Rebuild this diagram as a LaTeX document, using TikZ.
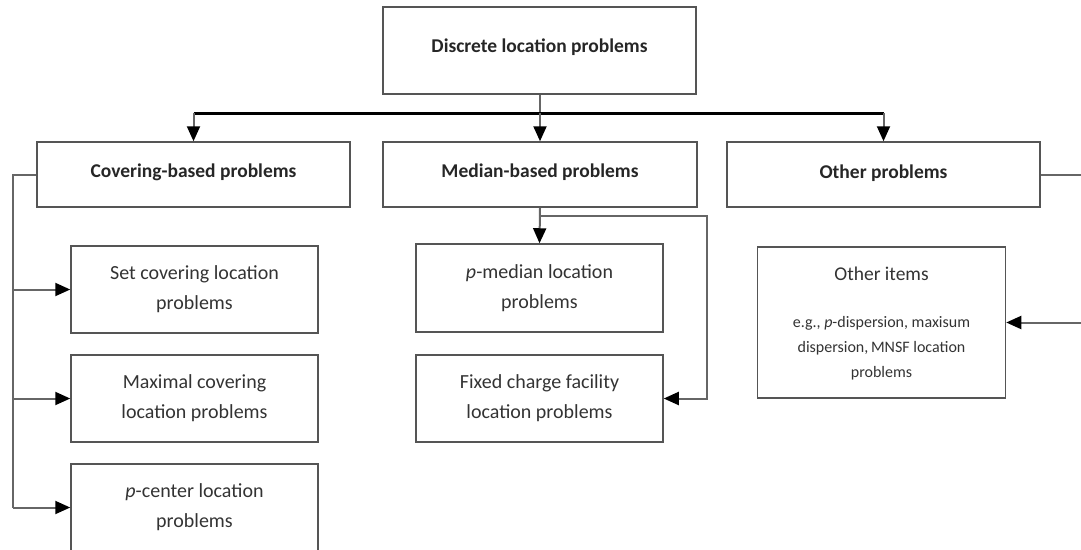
\documentclass[tikz,border=0pt]{standalone}
\usepackage{fontspec}
\setmainfont{Carlito}
\usetikzlibrary{arrows.meta}
\definecolor{txt}{HTML}{333333}
\definecolor{brd}{HTML}{555555}
\definecolor{ln}{HTML}{666666}
\tikzset{
  box/.style={draw=brd, line width=1.5pt, rectangle, align=center, text=txt,
    inner sep=0pt, font=\fontsize{20}{30}\selectfont},
  head/.style={box, text=black!85, font=\bfseries\fontsize{19.5}{30}\selectfont},
  conn/.style={draw=ln, line width=2pt},
  arr/.style={conn, -{Triangle[length=15pt,width=13pt,color=black]}},
  bus/.style={draw=black, line width=3pt}
}
\begin{document}
\begin{tikzpicture}[x=1pt,y=-1pt]
\useasboundingbox (0,0) rectangle (1081,549);
% main boxes
\node[head, minimum width=313pt, minimum height=87pt] (top) at (539.5,50.5) {\raisebox{9pt}{Discrete location problems}};
\node[head, minimum width=313pt, minimum height=65pt] (cov) at (193.5,174.5) {\raisebox{7pt}{Covering-based problems}};
\node[head, minimum width=314pt, minimum height=65pt] (med) at (540,174.5) {\raisebox{7pt}{Median-based problems}};
\node[head, minimum width=313pt, minimum height=65pt] (oth) at (883.5,174.5) {\raisebox{5pt}{Other problems}};
% covering children
\node[box, minimum width=247pt, minimum height=87pt] (set) at (194.5,289.5) {Set covering location\\problems};
\node[box, minimum width=247pt, minimum height=87pt] (max) at (194.5,398.5) {Maximal covering\\location problems};
\node[box, minimum width=247pt, minimum height=87pt] (pc) at (194.5,507.5) {\emph{p}-center location\\problems};
% median children
\node[box, minimum width=247pt, minimum height=88pt] (pmed) at (539.5,288) {\emph{p}-median location\\problems};
\node[box, minimum width=247pt, minimum height=87pt] (fix) at (539.5,398.5) {Fixed charge facility\\location problems};
% other items
\node[box, minimum width=248pt, minimum height=151pt] (items) at (881.5,322.5) {};
\node[text=txt, font=\fontsize{19.5}{22}\selectfont, anchor=base] (itemsT) at (881.5,280) {Other items};
\node[text=txt, align=center, anchor=north, inner sep=0pt, font=\fontsize{16}{25}\selectfont] (itemsS) at (881.5,316) {e.g., \emph{p}-dispersion, maxisum\\dispersion,\,MNSF location\\problems};
% coordinates
\coordinate (busy) at (0,113);
\coordinate (sp) at (13,0);
\coordinate (mj) at (540,216);
\coordinate (mr) at (707,0);
\coordinate (er) at (1081,0);
% top connectors
\draw[conn] (top.south) -- (top.south |- busy);
\draw[bus] (cov.north |- busy) -- (oth.north |- busy);
\draw[arr] (cov.north |- busy) -- (cov.north);
\draw[arr] (med.north |- busy) -- (med.north);
\draw[arr] (oth.north |- busy) -- (oth.north);
% covering spine
\draw[conn] (cov.west) -- (cov.west -| sp) -- (pc.west -| sp);
\draw[arr] (set.west -| sp) -- (set.west);
\draw[arr] (max.west -| sp) -- (max.west);
\draw[arr] (pc.west -| sp) -- (pc.west);
% median
\draw[arr] (med.south) -- (pmed.north);
\draw[arr] (mj) -- (mj -| mr) -- (fix.east -| mr) -- (fix.east);
% other
\draw[conn] (oth.east) -- (oth.east -| er);
\draw[arr] (items.east -| er) -- (items.east);
\end{tikzpicture}
\end{document}
